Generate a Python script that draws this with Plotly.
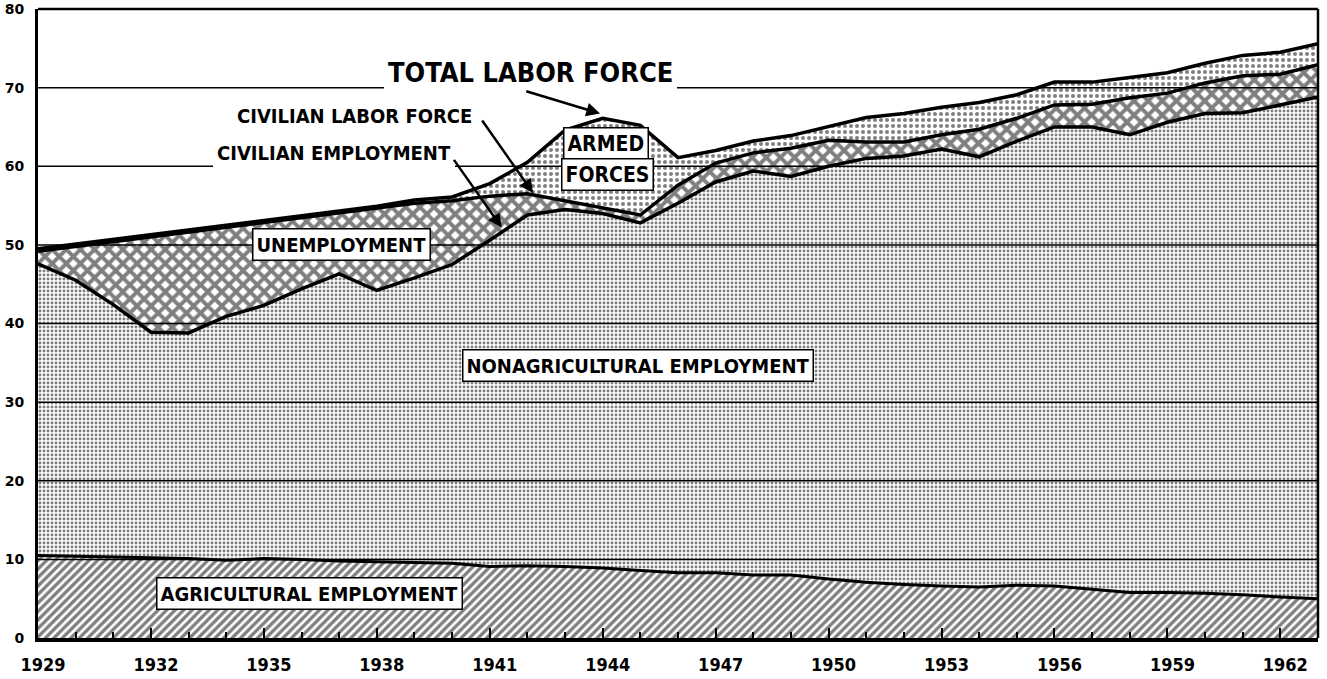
import plotly.graph_objects as go

# ---------------- data (millions of persons) ----------------
years = list(range(1929, 1964))
agricultural = [10.5, 10.4, 10.3, 10.2, 10.1, 9.9, 10.1, 10.0, 9.8, 9.7, 9.6, 9.5,
                9.1, 9.2, 9.1, 8.9, 8.6, 8.3, 8.3, 8.0, 8.0, 7.5, 7.1, 6.8, 6.6,
                6.5, 6.7, 6.6, 6.2, 5.8, 5.8, 5.7, 5.5, 5.2, 5.0]
civilian_employment = [47.6, 45.5, 42.4, 38.9, 38.8, 40.9, 42.3, 44.4, 46.3, 44.2,
                       45.8, 47.5, 50.6, 53.8, 54.5, 54.0, 52.8, 55.3, 58.0, 59.4,
                       58.7, 60.0, 61.0, 61.3, 62.2, 61.2, 63.2, 65.0, 65.0, 64.0,
                       65.6, 66.7, 66.8, 67.8, 68.8]
unemployment = [1.6, 4.3, 8.0, 12.1, 12.8, 11.3, 10.6, 9.0, 7.7, 10.4, 9.5, 8.1,
                5.6, 2.7, 1.1, 0.7, 1.0, 2.3, 2.4, 2.3, 3.6, 3.3, 2.1, 1.8, 1.8,
                3.5, 2.9, 2.8, 2.9, 4.7, 3.7, 3.9, 4.7, 3.9, 4.1]
armed_forces = [0.3, 0.3, 0.3, 0.3, 0.3, 0.3, 0.3, 0.3, 0.3, 0.3, 0.4, 0.5,
                1.6, 4.0, 9.0, 11.4, 11.4, 3.5, 1.6, 1.5, 1.6, 1.7, 3.1, 3.6,
                3.5, 3.4, 3.0, 2.9, 2.8, 2.6, 2.6, 2.5, 2.6, 2.8, 2.7]
nonagricultural = [round(e - a, 2) for e, a in zip(civilian_employment, agricultural)]

x_tick_years = list(range(1929, 1963, 3))
x_tick_labels = [str(y) for y in x_tick_years]
y_tick_values = list(range(0, 81, 10))

COND = "DejaVu Sans Condensed, Liberation Sans Narrow, DejaVu Sans, sans-serif"

fig = go.Figure()

def layer(name, vals, shape, size, solidity, lw):
    fig.add_trace(go.Scatter(
        x=years, y=vals, name=name, mode="lines", stackgroup="one",
        line=dict(color="black", width=lw, shape="linear"),
        fillcolor="white",
        fillpattern=dict(shape=shape, size=size, solidity=solidity,
                         fgcolor="black", bgcolor="white"),
        hoverinfo="x+y+name", showlegend=False))

layer("Agricultural employment", agricultural, "/", 6, 0.55, 3)
layer("Nonagricultural employment", nonagricultural, ".", 4, 0.42, 3.5)
layer("Unemployment", unemployment, "x", 10, 0.62, 3.5)
layer("Armed forces", armed_forces, ".", 6, 0.36, 3.5)

# gridlines drawn above the patterned areas, like the printed chart
shapes = []
for v in range(10, 80, 10):
    shapes.append(dict(type="line", xref="paper", yref="y", x0=0, x1=1, y0=v, y1=v,
                       line=dict(color="black", width=1.5), layer="above"))
shapes.append(dict(type="line", xref="paper", yref="paper", x0=0, x1=1, y0=1, y1=1,
                   line=dict(color="black", width=2.5), layer="above"))
shapes.append(dict(type="line", xref="paper", yref="paper", x0=1, x1=1, y0=0, y1=1,
                   line=dict(color="black", width=2.5), layer="above"))

def label(text, x, y, size, box=True):
    return dict(x=x, y=y, xref="x", yref="y", text=text, showarrow=False,
                font=dict(family=COND, size=size, color="black", weight="bold"),
                bgcolor="white", bordercolor="black" if box else "white",
                borderwidth=1.5 if box else 0, borderpad=3 if box else 4)

def arrow(hx, hy, tx, ty):
    return dict(x=hx, y=hy, ax=tx, ay=ty, xref="x", yref="y", axref="x", ayref="y",
                text="", showarrow=True, arrowhead=2, arrowsize=1.1, arrowwidth=2.5,
                arrowcolor="black", standoff=0)

annotations = [
    label("TOTAL LABOR FORCE", 1942.07, 71.9, 27, box=False),
    label("CIVILIAN LABOR FORCE", 1937.4, 66.4, 20, box=False),
    label("CIVILIAN EMPLOYMENT", 1936.85, 61.7, 20, box=False),
    label("UNEMPLOYMENT", 1937.07, 50.0, 20),
    label("NONAGRICULTURAL EMPLOYMENT", 1944.94, 34.6, 20),
    label("AGRICULTURAL EMPLOYMENT", 1936.22, 5.7, 20),
    label("ARMED", 1944.1, 62.9, 21),
    label("FORCES", 1944.14, 58.9, 21),
    arrow(1943.93, 66.7, 1941.93, 69.6),
    arrow(1942.15, 56.6, 1940.77, 66.0),
    arrow(1941.32, 52.2, 1940.02, 61.0),
]

fig.update_layout(
    width=1327, height=679,
    margin=dict(l=38, r=9, t=9, b=41),
    paper_bgcolor="white", plot_bgcolor="white",
    shapes=shapes, annotations=annotations,
    showlegend=False,
    xaxis=dict(range=[1929, 1963], tickmode="array", tickvals=x_tick_years,
               ticktext=x_tick_labels, showgrid=False, zeroline=False,
               automargin=False,
               showline=True, linecolor="black", linewidth=4,
               ticks="inside", ticklen=10, tickwidth=2, tickcolor="black",
               minor=dict(tickmode="linear", tick0=1929, dtick=1, ticks="inside",
                          ticklen=6, tickwidth=1.5, tickcolor="black", showgrid=False),
               ticklabelstandoff=7, ticklabelshift=5,
               tickfont=dict(family=COND, size=18, color="black", weight="bold")),
    yaxis=dict(range=[0, 80], tickmode="array", tickvals=y_tick_values,
               showgrid=False, zeroline=False, automargin=False,
               showline=True, linecolor="black", linewidth=3,
               ticks="", ticklabelstandoff=8,
               tickfont=dict(family="DejaVu Sans", size=14, color="black", weight="bold")),
)

# remove the page's default body margin so the figure sits at the window origin
fig.write_html("out.html",
               config={"displayModeBar": False},
               post_script="document.body.style.margin='0';document.body.style.overflow='hidden';")
